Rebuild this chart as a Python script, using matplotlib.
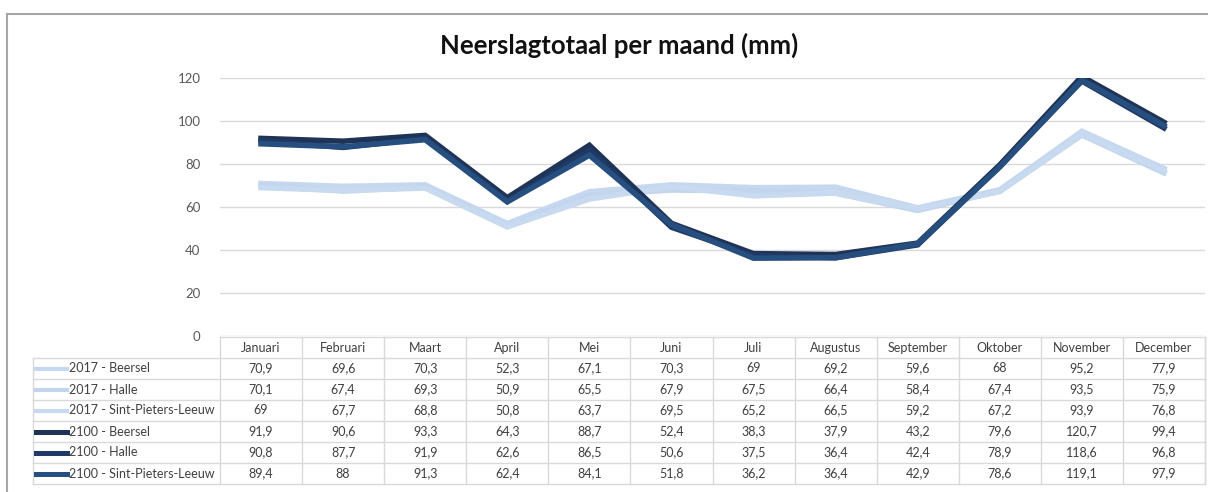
import matplotlib
matplotlib.use('Agg')
import matplotlib.pyplot as plt
from matplotlib.lines import Line2D
from matplotlib.patches import Rectangle

plt.rcParams['font.family'] = ['Lato', 'DejaVu Sans']

months = ['Januari', 'Februari', 'Maart', 'April', 'Mei', 'Juni', 'Juli',
          'Augustus', 'September', 'Oktober', 'November', 'December']
series_names = ['2017 - Beersel', '2017 - Halle', '2017 - Sint-Pieters-Leeuw',
                '2100 - Beersel', '2100 - Halle', '2100 - Sint-Pieters-Leeuw']
beersel_2017 = [70.9, 69.6, 70.3, 52.3, 67.1, 70.3, 69, 69.2, 59.6, 68, 95.2, 77.9]
halle_2017 = [70.1, 67.4, 69.3, 50.9, 65.5, 67.9, 67.5, 66.4, 58.4, 67.4, 93.5, 75.9]
spl_2017 = [69, 67.7, 68.8, 50.8, 63.7, 69.5, 65.2, 66.5, 59.2, 67.2, 93.9, 76.8]
beersel_2100 = [91.9, 90.6, 93.3, 64.3, 88.7, 52.4, 38.3, 37.9, 43.2, 79.6, 120.7, 99.4]
halle_2100 = [90.8, 87.7, 91.9, 62.6, 86.5, 50.6, 37.5, 36.4, 42.4, 78.9, 118.6, 96.8]
spl_2100 = [89.4, 88, 91.3, 62.4, 84.1, 51.8, 36.2, 36.4, 42.9, 78.6, 119.1, 97.9]
series = [beersel_2017, halle_2017, spl_2017, beersel_2100, halle_2100, spl_2100]
colors = ['#c5d8ef', '#c2d5ed', '#c8daf0', '#1e3355', '#1f3a66', '#264f80']

W, H = 1208, 492
fig = plt.figure(figsize=(W / 100, H / 100), dpi=100)

# outer frame
fig.patches.append(Rectangle((7 / W, -0.01), 1.1, (H - 13.5) / H + 0.01,
                             transform=fig.transFigure, fill=False,
                             edgecolor='#a6a6a6', linewidth=1.5))

fig.text(619 / W, 1 - 45 / H, 'Neerslagtotaal per maand (mm)', ha='center',
         va='center', fontsize=18.5, fontweight='bold', color='#111111')

# chart area
left, right = 220 / W, 1205 / W
ax = fig.add_axes([left, 1 - 336 / H, right - left, (336 - 78) / H])
x = list(range(len(months)))
for vals, c in zip(series, colors):
    ax.plot(x, vals, color=c, linewidth=4, solid_joinstyle='miter')
ax.set_xlim(-0.5, 11.5)
ax.set_ylim(0, 120)
ax.set_yticks(range(0, 121, 20))
ax.yaxis.grid(True, color='#d9d9d9', linewidth=1)
ax.set_axisbelow(True)
ax.set_xticks([])
for s in ax.spines.values():
    s.set_visible(False)
ax.tick_params(axis='y', length=0, pad=14, labelsize=9.5, labelcolor='#595959')

# data table
tl = 33 / W
xleft = -0.5 - (220 - 33) / ((1205 - 220) / 12)
tax = fig.add_axes([tl, 1 - 484 / H, right - tl, (484 - 337) / H])
tax.set_xlim(xleft, 11.5)
tax.set_ylim(7, 0)
tax.axis('off')
gc = '#d9d9d9'
tax.plot([-0.5, 11.5], [0, 0], color=gc, lw=1, clip_on=False)
for r in range(1, 8):
    tax.plot([xleft, 11.5], [r, r], color=gc, lw=1, clip_on=False)
for i in range(13):
    tax.plot([i - 0.5, i - 0.5], [0, 7], color=gc, lw=1, clip_on=False)
tax.plot([xleft, xleft], [1, 7], color=gc, lw=1, clip_on=False)
tax.plot([11.5, 11.5], [0, 7], color=gc, lw=1, clip_on=False)

tc = '#404040'
for i, m in enumerate(months):
    tax.text(i, 0.5, m, ha='center', va='center', fontsize=9, color=tc)
for r, (name, vals, c) in enumerate(zip(series_names, series, colors)):
    yr = r + 1.5
    tax.add_line(Line2D([xleft + 0.04, xleft + 0.42], [yr, yr], color=c,
                        linewidth=3.6 if r >= 3 else 3, clip_on=False))
    tax.text(xleft + 0.44, yr, name, ha='left', va='center', fontsize=9, color=tc)
    for i, v in enumerate(vals):
        tax.text(i, yr, f'{v:g}'.replace('.', ','), ha='center', va='center',
                 fontsize=9, color=tc)

fig.savefig('out.png', dpi=100)
